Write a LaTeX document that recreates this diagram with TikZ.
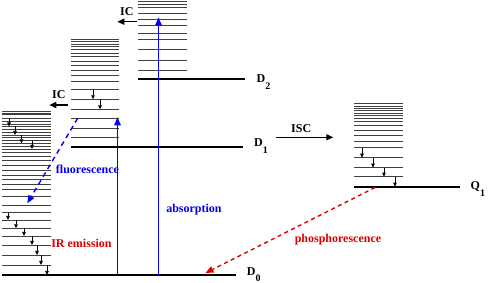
\documentclass[tikz,border=0pt]{standalone}
\usepackage{fontspec}
\setmainfont{Liberation Serif}
\usetikzlibrary{arrows.meta}
\definecolor{emblue}{HTML}{0000EE}
\definecolor{emred}{HTML}{DD0000}
\newcommand{\statelbl}[3][-7pt]{#2\raisebox{#1}{\fontsize{10}{10}\selectfont #3}}
\begin{document}
\begin{tikzpicture}[x=1pt, y=-1pt,
    font=\fontsize{12}{14}\selectfont\bfseries,
    vib/.style={black!75, line width=0.9pt},
    elec/.style={black, line width=2pt},
    relax/.style={-{Triangle[length=4pt,width=3.5pt]}, line width=0.7pt},
    conv/.style={-{Triangle[length=7pt,width=6pt]}, line width=1.6pt},
    absorb/.style={-{Triangle[length=8pt,width=6.5pt]}, line width=1.5pt, emblue},
    emit/.style={-{Triangle[length=8pt,width=6.5pt]}, line width=1.4pt, dash pattern=on 5pt off 4pt, #1},
    lbl/.style={inner sep=0pt, anchor=base},
]
  \useasboundingbox (0,0) rectangle (488,283);
  %% vibrational ladders
  \foreach \y in {111.3,113,114.7,118,121,124,126.5,129.3,132.3,135,137.7,140.3,143.3,146,149,152.3,156,
                  160.5,165.5,170,175,179.7,184.5,189,196,205,212.7,220,228.3,236,245,255,265}
    \draw[vib] (2,\y) -- (51,\y);
  \foreach \y in {39,41.7,44,46.7,49.3,53.3,56.7,61,65,70,75,81.7,89.3,99.3,109.3,118.3,128.3,137}
    \draw[vib] (71,\y) -- (119,\y);
  \foreach \y in {1.7,4.5,7.5,13.3,19.3,25,33.3,39.3,49,60,70}
    \draw[vib] (138,\y) -- (187,\y);
  \foreach \y in {103.3,106,108.3,110.7,113.3,115.7,118.3,121.7,125.7,130,135,141.7,147.7,157.7,167.7,176.7}
    \draw[vib] (354,\y) -- (403,\y);
  %% electronic states
  \draw[elec] (2,275) -- (236,275);
  \draw[elec] (71,147) -- (243,147);
  \draw[elec] (138,79) -- (245,79);
  \draw[elec] (354,186.7) -- (460,186.7);
  \node[lbl, anchor=base west] (lD0) at (246.7,276) {\statelbl[-5.5pt]{D}{0}};
  \node[lbl, anchor=base west] (lD1) at (254,147) {\statelbl{D}{1}};
  \node[lbl, anchor=base west] (lD2) at (256.5,82.7) {\statelbl{D}{2}};
  \node[lbl, anchor=base west] (lQ1) at (470.5,190) {\statelbl{Q}{1}};
  %% vibrational relaxation steps
  \foreach \x/\ya/\yb [count=\i] in {9/118/126.5, 15/126.5/135, 21.5/135/143.3, 32/141/149,
      8/212.7/220, 16/220/228.3, 24/228.3/236, 32/236/245, 37/245/255, 41/255/265, 47/265/275,
      93/89.3/99.3, 100/99.3/109.3,
      362/147.7/157.7, 373/157.7/167.7, 384/167.7/176.7, 395/176.7/186.7} {
    \coordinate (vt\i) at (\x,\ya);
    \coordinate (vb\i) at (\x,\yb);
    \draw[relax] (vt\i) -- (vb\i);
  }
  %% internal / intersystem conversion
  \coordinate (ic1a) at (136.7,21.7); \coordinate (ic1b) at (117.3,21.7);
  \coordinate (ic2a) at (68.3,105);   \coordinate (ic2b) at (49.3,105);
  \coordinate (isca) at (276,137.3);  \coordinate (iscb) at (333.3,137.3);
  \draw[conv] (ic1a) -- (ic1b);
  \draw[conv] (ic2a) -- (ic2b);
  \draw[conv, line width=1.3pt] (isca) -- (iscb);
  \node[lbl, anchor=base west] (tic1) at (120,16) {IC};
  \node[lbl, anchor=base west] (tic2) at (52,99) {IC};
  \node[lbl, anchor=base west] (tisc) at (291,132.3) {ISC};
  %% radiative transitions
  \coordinate (ab1a) at (117.5,275); \coordinate (ab1b) at (117.5,117.3);
  \coordinate (ab2a) at (158.5,275); \coordinate (ab2b) at (158.5,17.5);
  \draw[absorb] (ab1a) -- (ab1b);
  \draw[absorb] (ab2a) -- (ab2b);
  \coordinate (fla) at (77.7,118.3); \coordinate (flb) at (27.3,203.3);
  \draw[emit=emblue] (fla) -- (flb);
  \coordinate (pha) at (375,187.5); \coordinate (phb) at (205.5,273);
  \draw[emit=emred, dash pattern=on 4pt off 3.5pt] (pha) -- (phb);
  \node[lbl, emblue] (tfl) at (87.5,174) {fluorescence};
  \node[lbl, emblue] (tab) at (194,213) {absorption};
  \node[lbl, emred] (tir) at (81.5,248) {IR emission};
  \node[lbl, emred] (tph) at (338,243) {phosphorescence};
\end{tikzpicture}
\end{document}
